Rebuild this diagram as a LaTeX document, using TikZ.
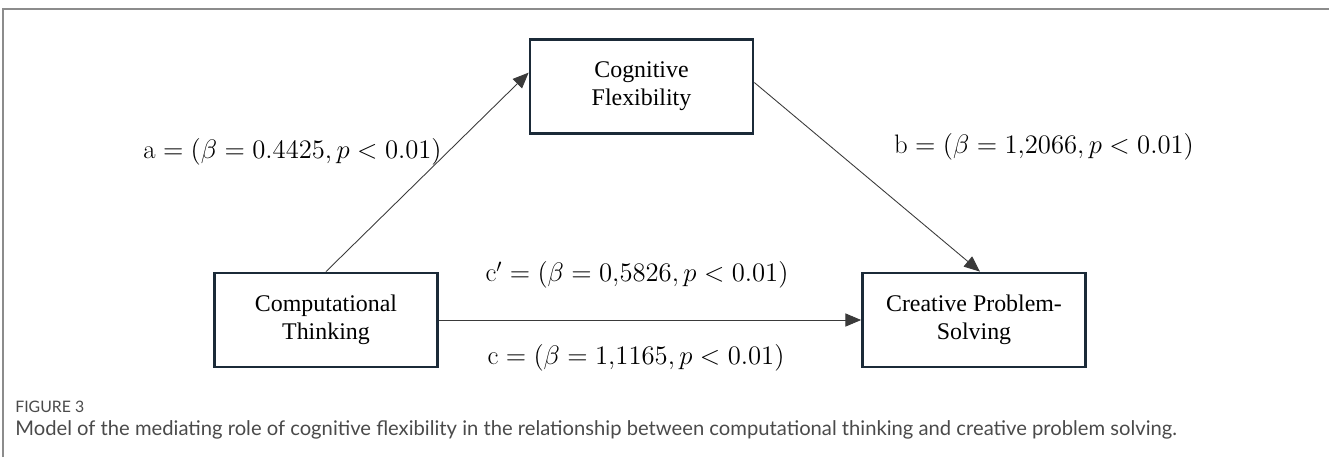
\RequirePackage{fix-cm}
\documentclass[tikz,border=0pt]{standalone}
\usepackage{fontspec}
\usepackage{amsmath}
\usepackage{tikz}
\usetikzlibrary{arrows.meta,positioning}
\newfontfamily\boxfont{Liberation Serif}
\newfontfamily\capfont{Lato}
\definecolor{boxline}{HTML}{1B2A38}
\definecolor{arrline}{HTML}{3A3A3A}
\definecolor{frameline}{HTML}{8C8C8C}
\definecolor{capgray}{HTML}{4A4A4A}

\begin{document}
\begin{tikzpicture}[x=0.02cm,y=-0.02cm,
  varbox/.style={draw=boxline,line width=1.6pt,fill=white,align=center,
    minimum width=4.46cm,minimum height=1.88cm,font=\boxfont\fontsize{13.6}{15.9}\selectfont},
  effect/.style={draw=arrline,line width=0.5pt,-{Triangle[length=9pt,width=7.5pt]}},
  coef/.style={font=\fontsize{15.2}{17}\selectfont}]
\useasboundingbox (0,0) rectangle (1329,457);
% frame
\draw[frameline,line width=0.8pt] (3,457) -- (3,9) -- (1329,9);
% variables
\node[varbox] (cf) at (641.5,86.5) {Cognitive\\Flexibility};
\node[varbox] (ct) at (326,320) {Computational\\Thinking};
\node[varbox] (cps) at (974,320) {Creative Problem-\\Solving};
% paths
\draw[effect] (ct.north) -- (cf.173);
\draw[effect] (cf.2) -- (cps.83);
\draw[effect] (ct.east) -- (cps.west);
% coefficients
\node[coef] (la) at (292.5,152) {$\mathrm{a} = (\beta = 0.4425, p < 0.01)$};
\node[coef] (lb) at (1044,147) {$\mathrm{b} = (\beta = 1{,}2066, p < 0.01)$};
\node[coef] (lcp) at (637,275) {$\mathrm{c}' = (\beta = 0{,}5826, p < 0.01)$};
\node[coef] (lc) at (636,358) {$\mathrm{c} = (\beta = 1{,}1165, p < 0.01)$};
% caption
\node[anchor=west,inner sep=0pt,text=capgray,font=\capfont\fontsize{9}{11}\selectfont] (fig) at (15,407) {FIGURE 3};
\node[anchor=west,inner sep=0pt,text=capgray,font=\capfont\fontsize{11.5}{13}\selectfont] (cap) at (15,430) {Model of the mediating role of cognitive flexibility in the relationship between computational thinking and creative problem solving.};
\end{tikzpicture}
\end{document}
